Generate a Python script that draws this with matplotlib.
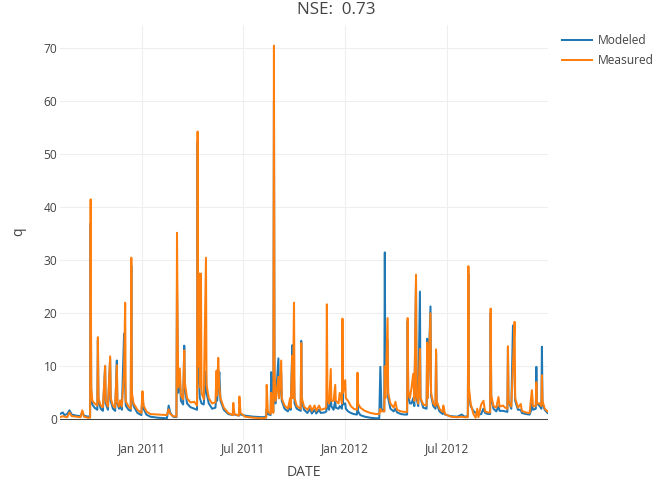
import matplotlib
matplotlib.use("Agg")
import matplotlib.pyplot as plt
import matplotlib.dates as mdates
import pandas as pd

# ---------------- data ----------------
dates = [
    "2010-08-07", "2010-08-12", "2010-08-15", "2010-08-20", "2010-08-24", "2010-08-28",
    "2010-09-05", "2010-09-13", "2010-09-16", "2010-09-19", "2010-09-26", "2010-09-30",
    "2010-10-01", "2010-10-02", "2010-10-04", "2010-10-08", "2010-10-13", "2010-10-14",
    "2010-10-15", "2010-10-19", "2010-10-23", "2010-10-27", "2010-10-28", "2010-11-01",
    "2010-11-05", "2010-11-06", "2010-11-10", "2010-11-14", "2010-11-17", "2010-11-18",
    "2010-11-21", "2010-11-23", "2010-11-26", "2010-11-30", "2010-12-02", "2010-12-03",
    "2010-12-08", "2010-12-12", "2010-12-13", "2010-12-14", "2010-12-17", "2010-12-24",
    "2010-12-31", "2011-01-02", "2011-01-04", "2011-01-09", "2011-01-16", "2011-01-30",
    "2011-02-15", "2011-02-18", "2011-02-21", "2011-02-26", "2011-03-04", "2011-03-05",
    "2011-03-07", "2011-03-10", "2011-03-12", "2011-03-16", "2011-03-18", "2011-03-19",
    "2011-03-23", "2011-03-29", "2011-04-05", "2011-04-10", "2011-04-11", "2011-04-12",
    "2011-04-14", "2011-04-15", "2011-04-17", "2011-04-18", "2011-04-22", "2011-04-26",
    "2011-04-27", "2011-05-01", "2011-05-07", "2011-05-13", "2011-05-15", "2011-05-16",
    "2011-05-18", "2011-05-20", "2011-05-22", "2011-05-28", "2011-06-05", "2011-06-13",
    "2011-06-14", "2011-06-16", "2011-06-24", "2011-06-25", "2011-06-27", "2011-07-05",
    "2011-07-20", "2011-08-05", "2011-08-12", "2011-08-13", "2011-08-15", "2011-08-20",
    "2011-08-21", "2011-08-23", "2011-08-25", "2011-08-26", "2011-08-27", "2011-08-29",
    "2011-09-03", "2011-09-04", "2011-09-08", "2011-09-09", "2011-09-14", "2011-09-20",
    "2011-09-24", "2011-09-25", "2011-09-28", "2011-09-29", "2011-10-01", "2011-10-02",
    "2011-10-06", "2011-10-13", "2011-10-14", "2011-10-15", "2011-10-19", "2011-10-25",
    "2011-10-30", "2011-11-02", "2011-11-07", "2011-11-10", "2011-11-15", "2011-11-18",
    "2011-11-25", "2011-11-28", "2011-11-29", "2011-11-30", "2011-12-03", "2011-12-06",
    "2011-12-07", "2011-12-11", "2011-12-14", "2011-12-15", "2011-12-20", "2011-12-22",
    "2011-12-26", "2011-12-27", "2011-12-28", "2012-01-01", "2012-01-02", "2012-01-06",
    "2012-01-11", "2012-01-16", "2012-01-22", "2012-01-23", "2012-01-24", "2012-01-28",
    "2012-02-05", "2012-02-15", "2012-02-25", "2012-03-02", "2012-03-04", "2012-03-06",
    "2012-03-11", "2012-03-12", "2012-03-13", "2012-03-17", "2012-03-18", "2012-03-22",
    "2012-03-28", "2012-03-31", "2012-04-03", "2012-04-10", "2012-04-16", "2012-04-21",
    "2012-04-22", "2012-04-23", "2012-04-26", "2012-04-29", "2012-05-02", "2012-05-04",
    "2012-05-07", "2012-05-08", "2012-05-11", "2012-05-14", "2012-05-15", "2012-05-20",
    "2012-05-26", "2012-05-27", "2012-05-28", "2012-06-02", "2012-06-03", "2012-06-07",
    "2012-06-11", "2012-06-12", "2012-06-13", "2012-06-18", "2012-06-24", "2012-06-25",
    "2012-06-28", "2012-07-08", "2012-07-20", "2012-07-28", "2012-08-02", "2012-08-08",
    "2012-08-09", "2012-08-10", "2012-08-13", "2012-08-18", "2012-08-22", "2012-08-25",
    "2012-08-27", "2012-09-01", "2012-09-05", "2012-09-08", "2012-09-13", "2012-09-17",
    "2012-09-18", "2012-09-19", "2012-09-23", "2012-09-28", "2012-10-02", "2012-10-04",
    "2012-10-10", "2012-10-14", "2012-10-18", "2012-10-19", "2012-10-20", "2012-10-25",
    "2012-10-28", "2012-10-31", "2012-11-01", "2012-11-06", "2012-11-11", "2012-11-13",
    "2012-11-20", "2012-11-27", "2012-11-29", "2012-12-01", "2012-12-03", "2012-12-08",
    "2012-12-09", "2012-12-10", "2012-12-15", "2012-12-18", "2012-12-19", "2012-12-20",
    "2012-12-24", "2012-12-29",
]

modeled = [
    1.0, 1.3, 0.8, 1.0, 1.7, 0.9,
    0.7, 0.6, 1.4, 0.7, 0.5, 0.6,
    37.0, 5.0, 2.8, 2.2, 1.8, 15.0,
    3.5, 2.0, 1.6, 10.0, 3.0, 1.8,
    11.5, 3.5, 2.0, 1.6, 11.1, 3.0,
    2.0, 2.8, 1.8, 16.2, 6.0, 2.6,
    1.8, 1.6, 29.0, 4.5, 2.5, 1.2,
    0.8, 4.5, 2.0, 0.9, 0.5, 0.3,
    0.2, 2.6, 1.2, 0.5, 0.4, 25.3,
    5.0, 8.0, 3.5, 2.8, 13.9, 6.0,
    3.0, 2.3, 2.0, 1.8, 52.4, 8.0,
    6.7, 4.0, 3.3, 3.0, 2.8, 9.0,
    5.0, 3.0, 2.0, 2.2, 5.0, 3.5,
    6.0, 8.9, 3.5, 1.8, 1.0, 0.8,
    1.5, 0.9, 0.7, 1.8, 0.9, 0.7,
    0.5, 0.4, 0.5, 2.0, 1.0, 0.8,
    8.9, 2.0, 1.5, 60.0, 8.0, 3.0,
    11.5, 4.0, 9.0, 3.5, 2.0, 1.5,
    2.5, 1.8, 14.0, 4.0, 8.0, 3.0,
    2.0, 1.6, 14.8, 3.5, 1.8, 1.2,
    2.0, 1.1, 1.8, 1.1, 1.8, 1.2,
    1.3, 1.5, 3.6, 2.5, 1.8, 5.0,
    2.5, 1.8, 3.5, 2.2, 2.0, 2.5,
    2.0, 5.0, 2.8, 3.0, 2.0, 1.5,
    1.2, 1.0, 0.9, 3.0, 1.5, 0.8,
    0.5, 0.3, 0.2, 0.2, 9.9, 2.0,
    1.5, 31.5, 6.0, 15.0, 4.0, 2.0,
    1.5, 2.0, 1.3, 1.0, 0.9, 0.9,
    18.5, 4.5, 3.0, 3.0, 4.0, 2.5,
    26.0, 4.0, 2.5, 24.1, 4.0, 2.2,
    2.0, 15.2, 4.0, 21.3, 4.5, 2.5,
    2.0, 12.5, 3.0, 1.5, 1.0, 1.8,
    0.9, 0.6, 0.5, 0.9, 0.5, 0.6,
    27.5, 5.0, 2.5, 1.6, 1.2, 1.0,
    0.9, 1.0, 2.0, 1.2, 1.0, 1.0,
    20.0, 4.0, 2.0, 1.5, 2.5, 1.6,
    1.6, 1.5, 1.4, 13.5, 3.5, 2.0,
    17.7, 8.0, 3.5, 1.8, 1.8, 1.2,
    1.0, 0.9, 1.5, 3.0, 1.8, 2.0,
    9.9, 3.0, 2.5, 2.0, 13.7, 3.0,
    1.8, 1.2,
]

measured = [
    0.4, 0.6, 0.5, 0.4, 1.3, 0.6,
    0.5, 0.4, 1.7, 0.5, 0.3, 0.3,
    41.5, 6.0, 3.5, 3.0, 2.6, 15.5,
    4.0, 2.6, 2.3, 10.1, 3.5, 2.4,
    11.9, 4.0, 2.6, 2.2, 10.2, 3.2,
    2.4, 3.6, 2.4, 9.0, 22.0, 3.4,
    2.4, 2.0, 30.5, 5.0, 3.0, 1.8,
    1.2, 5.3, 2.6, 1.5, 1.0, 0.9,
    0.8, 1.9, 1.0, 0.6, 0.5, 35.2,
    6.0, 9.6, 4.5, 3.8, 13.0, 7.0,
    4.0, 3.2, 3.3, 2.6, 54.3, 10.0,
    27.5, 6.0, 27.5, 5.0, 3.8, 30.5,
    6.5, 4.0, 3.0, 3.2, 9.2, 4.5,
    11.6, 6.0, 4.0, 2.2, 1.2, 0.8,
    3.1, 1.0, 0.7, 4.3, 1.2, 0.5,
    0.3, 0.2, 0.3, 6.5, 1.5, 1.0,
    5.0, 1.5, 1.2, 70.5, 9.0, 3.5,
    8.0, 4.0, 11.1, 4.0, 2.6, 2.0,
    4.0, 2.2, 12.0, 4.0, 22.0, 4.0,
    2.5, 2.0, 14.4, 4.0, 2.4, 1.8,
    2.6, 1.6, 2.6, 1.6, 2.6, 1.8,
    2.0, 2.3, 21.7, 4.0, 3.0, 9.5,
    3.5, 3.5, 6.5, 3.5, 3.0, 5.0,
    3.0, 19.0, 5.0, 7.4, 4.0, 3.5,
    2.5, 2.0, 1.8, 8.8, 3.0, 2.2,
    1.6, 1.2, 1.0, 1.0, 2.0, 1.5,
    1.5, 10.0, 4.0, 19.1, 5.0, 3.0,
    2.2, 3.3, 1.8, 1.5, 1.4, 1.4,
    19.1, 5.5, 4.0, 6.0, 8.6, 3.5,
    27.3, 4.5, 3.0, 13.3, 4.0, 2.8,
    2.6, 14.5, 4.0, 20.0, 5.0, 3.0,
    2.5, 13.2, 3.5, 2.0, 1.4, 2.6,
    1.0, 0.5, 0.4, 0.5, 0.4, 0.4,
    28.9, 6.0, 3.0, 1.0, 0.3, 2.0,
    0.4, 2.8, 3.5, 1.5, 1.3, 1.3,
    20.9, 4.5, 2.5, 2.2, 4.2, 2.4,
    2.6, 2.2, 2.0, 13.8, 3.5, 2.4,
    10.0, 18.4, 4.0, 2.2, 2.9, 1.6,
    1.3, 1.2, 3.5, 5.5, 2.5, 2.5,
    7.0, 3.0, 3.0, 2.5, 8.3, 3.5,
    2.0, 1.5,
]

series_names = ["Modeled", "Measured"]
series_colors = ["#1f77b4", "#ff7f0e"]
title_text = "NSE:  0.73"
x_title = "DATE"
y_title = "q"
x_ticks = ["2011-01-01", "2011-07-01", "2012-01-01", "2012-07-01"]
y_ticks = [0, 10, 20, 30, 40, 50, 60, 70]

# ---------------- drawing ----------------
plt.rcParams["font.family"] = ["Open Sans", "DejaVu Sans"]
TXT = "#444444"
W, H = 672, 480
fig = plt.figure(figsize=(W / 100, H / 100), dpi=100)
left, right, top, bottom = 60, 547.5, 25, 440
ax = fig.add_axes([left / W, 1 - bottom / H, (right - left) / W, (bottom - top) / H])

x = pd.to_datetime(dates)
ax.plot(x, modeled, color=series_colors[0], lw=1.45, label=series_names[0], zorder=3,
        solid_joinstyle="round")
ax.plot(x, measured, color=series_colors[1], lw=1.45, label=series_names[1], zorder=4,
        solid_joinstyle="round")

ax.set_xlim(x[0], x[-1])
ax.set_ylim(-3.9, 74.4)

ax.set_xticks(pd.to_datetime(x_ticks))
ax.xaxis.set_major_formatter(mdates.DateFormatter("%b %Y"))
ax.set_yticks(y_ticks)

ax.grid(True, color="#eeeeee", lw=0.75, zorder=0)
ax.axhline(0, color=TXT, lw=0.75, zorder=2)
for s in ax.spines.values():
    s.set_visible(False)
ax.tick_params(axis="both", length=0, labelsize=8.64, labelcolor=TXT)
ax.tick_params(axis="x", pad=1.5)
ax.tick_params(axis="y", pad=2)

fig.text(((left + right) / 2) / W, 1 - 472 / H, x_title, ha="center", va="center",
         fontsize=10.1, color=TXT)
fig.text(19 / W, 1 - 232 / H, y_title, ha="center", va="center", rotation=90,
         fontsize=10.1, color=TXT)

fig.text(0.5, 1 - 10 / H, title_text, ha="center", va="center", fontsize=12.24, color=TXT)

leg = ax.legend(loc="upper left", bbox_to_anchor=(562 / W, 1 - 34 / H),
                bbox_transform=fig.transFigure, frameon=False, fontsize=8.64,
                handlelength=2.5, handletextpad=0.45, labelspacing=0.62,
                borderpad=0, borderaxespad=0)
for t in leg.get_texts():
    t.set_color(TXT)

fig.savefig("out.png", dpi=100)
